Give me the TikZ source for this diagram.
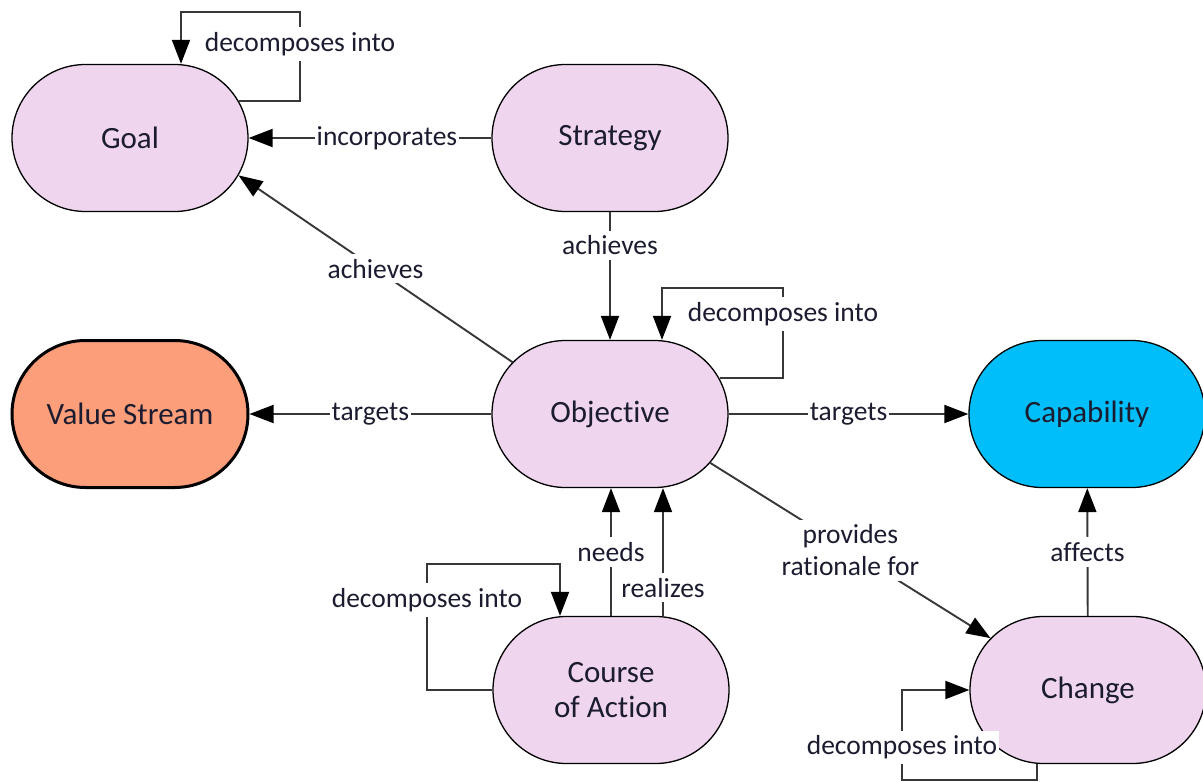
\documentclass[tikz,border=0pt]{standalone}
\usepackage{fontspec}
\setmainfont{Carlito}[Ligatures={NoCommon}]
\usetikzlibrary{shapes.misc,arrows.meta,calc}
\definecolor{conceptfill}{RGB}{239,214,238}
\definecolor{streamfill}{RGB}{252,158,122}
\definecolor{capfill}{RGB}{0,190,250}
\definecolor{linec}{RGB}{55,55,55}
\definecolor{textc}{RGB}{28,28,48}
\begin{document}
\begin{tikzpicture}[x=1pt,y=-1pt,
  concept/.style={rounded rectangle, draw=black, line width=1.3pt, fill=conceptfill,
    minimum width=236pt, minimum height=147pt, inner sep=0pt,
    font=\fontsize{31}{35}\selectfont, text=textc, align=center},
  rel/.style={draw=linec, line width=1.9pt, -{Triangle[length=24pt,width=18pt,color=black]}},
  lbl/.style={fill=white, inner xsep=2pt, inner ysep=5pt,
    font=\fontsize{27.5}{32}\selectfont, text=textc, align=center}]
\useasboundingbox (0,0) rectangle (1203,782);

% concepts
\node[concept] (goal) at (130,138) {Goal};
\node[concept] (strat) at (610,138) {Strategy};
\node[concept] (obj) at (610,414) {Objective};
\node[concept, fill=streamfill, line width=3pt] (vs) at (130,414) {Value Stream};
\node[concept, fill=capfill] (cap) at (1087,414) {Capability};
\node[concept] (coa) at (611,690) {Course\\of Action};
\node[concept] (change) at (1088,690) {Change};

% relations
\draw[rel] (goal.19) -| node[lbl, pos=0.82] {decomposes into} (300,12)
  -| ([xshift=51pt]goal.north);
\draw[rel] (strat) -- node[lbl, pos=0.43] {incorporates} (goal);
\draw[rel] (obj.152) -- node[lbl, pos=0.5] {achieves} (goal.-19);
\draw[rel] (strat) -- node[lbl, pos=0.26] {achieves} (obj);
\draw[rel] (obj.18) -| node[lbl, pos=0.855] {decomposes into} (783,288)
  -| ([xshift=52pt]obj.north);
\draw[rel] (obj) -- node[lbl, pos=0.5] {targets} (vs);
\draw[rel] (obj) -- node[lbl, pos=0.5] {targets} (cap);
\draw[rel] (obj.-26) -- node[lbl, pos=0.5] {provides\\rationale for} (change.152);
\draw[rel] (change) -- node[lbl, pos=0.5] {affects} (cap);
\draw[rel] ([xshift=-51pt]change.south) |- (902,780)
  |- node[lbl, pos=0.18] {decomposes into} (change.west);
\draw[rel] (coa.west) -| node[lbl, pos=0.857] {decomposes into} (427,564)
  -| ([xshift=-51pt]coa.north);
\draw[rel] (coa.north) -- node[lbl, pos=0.5] {needs} (coa.north |- obj.south);
\draw[rel] ($(coa.north)+(52,0)$) -- node[lbl, pos=0.22] {realizes} ($(obj.south)+(53,0)$);
\end{tikzpicture}
\end{document}
